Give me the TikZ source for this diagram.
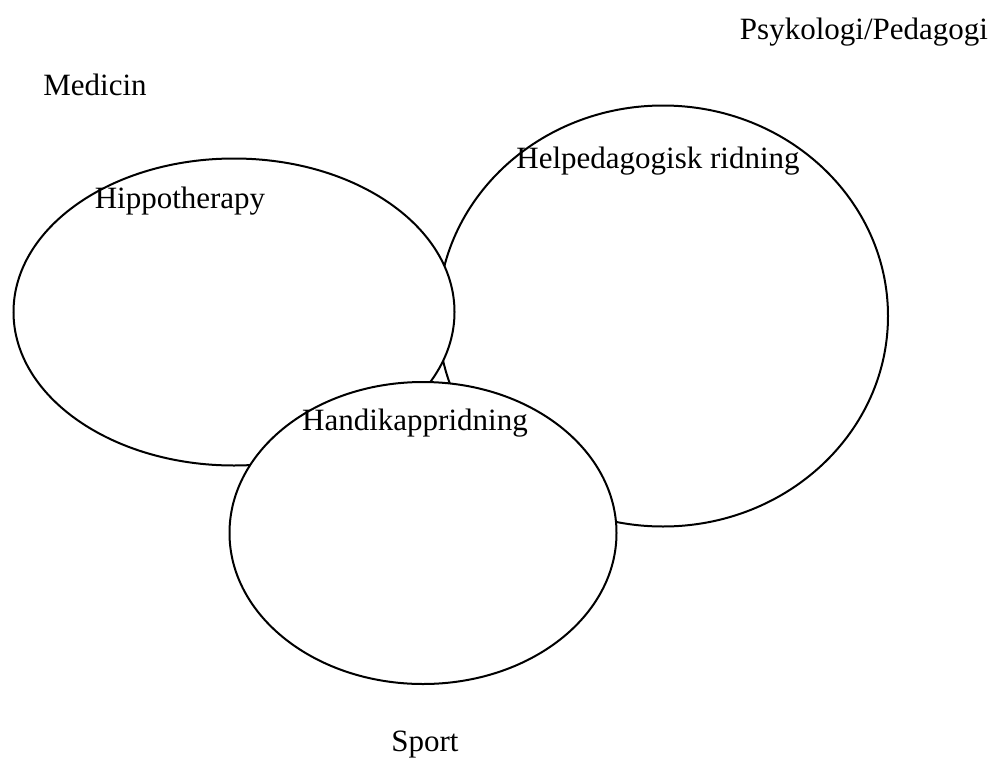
\documentclass[tikz,border=0pt]{standalone}
\usepackage{fontspec}
\setmainfont{Liberation Serif}
\usetikzlibrary{shapes.geometric}
\begin{document}
\begin{tikzpicture}[x=1pt, y=-1pt,
  area/.style={ellipse, draw, fill=white, line width=2pt, inner sep=0pt},
  field/.style={font=\fontsize{31}{36}\selectfont, inner sep=0pt, anchor=base}]

\useasboundingbox (0,0) rectangle (991,761); %% page

%% the three areas, back to front
\node[area, minimum width=450pt, minimum height=421pt] (helped) at (663,316) {};
\node[area, minimum width=441pt, minimum height=307pt] (hippo) at (234,312) {};
\node[area, minimum width=387pt, minimum height=302pt] (handi) at (423,533) {};

%% names of the areas
\node[field] (hippotxt) at (180,208) {Hippotherapy};
\node[field] (helpedtxt) at (658,168) {Helpedagogisk ridning};
\node[field] (handitxt) at (415,430) {Handikappridning};

%% fields round them
\node[field] (psyk) at (864,39) {Psykologi/Pedagogi};
\node[field] (medicin) at (95,95) {Medicin};
\node[field] (sport) at (425,751) {Sport};

\end{tikzpicture}
\end{document}
